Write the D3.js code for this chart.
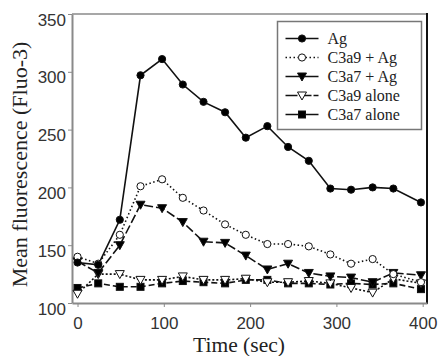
<!DOCTYPE html>
<html>
<head>
<meta charset="utf-8">
<script src="https://cdn.jsdelivr.net/npm/d3@7"></script>
<style>
  body { margin: 0; background: #fff; }
  svg { display: block; }
</style>
</head>
<body>
<div class="chart"></div>
<script>
// time points (sec)
var times = [0, 24, 49, 73, 98, 122, 146, 171, 195, 220, 244, 268, 293, 317, 342, 366, 398];

// mean fluorescence per series
var agValues = [135, 133, 172, 297, 311, 289, 274, 265, 243, 253, 235, 223, 199, 198, 200, 199, 187];
var c3a9AgValues = [140, 134, 159, 201, 207, 191, 180, 168, 159, 151, 151, 149, 142, 134, 138, 125, 118];
var c3a7AgValues = [136, 126, 150, 185, 182, 170, 153, 152, 141, 129, 134, 126, 123, 122, 118, 126, 124];
var c3a9AloneValues = [108, 125, 125, 120, 120, 123, 120, 120, 121, 118, 118, 119, 117, 113, 109, 121, 117];
var c3a7AloneValues = [113, 117, 114, 114, 117, 119, 118, 117, 120, 120, 117, 117, 116, 117, 116, 117, 112];

var seriesNames = ["Ag", "C3a9 + Ag", "C3a7 + Ag", "C3a9 alone", "C3a7 alone"];
var yTicks = [100, 150, 200, 250, 300, 350];
var xTicks = [0, 100, 200, 300, 400];

var series = [
    {name: seriesNames[0], values: agValues, marker: "circle", fill: "#000", dash: null, legendDash: null},
    {name: seriesNames[1], values: c3a9AgValues, marker: "circle", fill: "#fff", dash: "1.5,2.5", legendDash: "1.5,2.5"},
    {name: seriesNames[2], values: c3a7AgValues, marker: "triangle", fill: "#000", dash: "9,3", legendDash: null},
    {name: seriesNames[3], values: c3a9AloneValues, marker: "triangle", fill: "#fff", dash: "2,2", legendDash: "10,0,2,2"},
    {name: seriesNames[4], values: c3a7AloneValues, marker: "square", fill: "#000", dash: "6,3", legendDash: null}
];

var width = 446, height = 356;
var svg = d3.select("div.chart").append("svg")
    .attr("width", width)
    .attr("height", height);

var x = d3.scaleLinear().domain([-6.4, 405]).range([72, 427]);
var y = d3.scaleLinear().domain([100, 350]).range([303, 14]);

// frame: gray top, black right
svg.append("line")
    .attr("x1", x.range()[0]).attr("x2", x.range()[1])
    .attr("y1", y(350)).attr("y2", y(350))
    .attr("stroke", "#8a8a8a").attr("stroke-width", 1.5);
svg.append("line")
    .attr("x1", x.range()[1]).attr("x2", x.range()[1])
    .attr("y1", y(350) - 1).attr("y2", y(100) + 1)
    .attr("stroke", "#111").attr("stroke-width", 2);

// x axis
var xAxis = svg.append("g")
    .attr("transform", "translate(0," + y(100) + ")")
    .call(d3.axisBottom(x).tickValues(xTicks).tickSize(4).tickSizeOuter(0).tickPadding(10));
// y axis
var yAxis = svg.append("g")
    .attr("transform", "translate(" + x.range()[0] + ",0)")
    .call(d3.axisLeft(y).tickValues(yTicks).tickSize(4).tickSizeOuter(0).tickPadding(2));

[xAxis, yAxis].forEach(function (g) {
    g.select(".domain").attr("stroke", "#8a8a8a").attr("stroke-width", 2);
    g.selectAll(".tick line").attr("stroke", "#8a8a8a");
    g.selectAll(".tick text")
        .attr("fill", "#333")
        .style("font-family", "'Liberation Sans', Arial, sans-serif")
        .style("font-size", "17px");
});
yAxis.selectAll(".tick text").attr("dy", "11");

// lines
var line = d3.line()
    .x(function (d, i) { return x(times[i]); })
    .y(function (d) { return y(d); });

series.forEach(function (s) {
    svg.append("path")
        .datum(s.values)
        .attr("fill", "none")
        .attr("stroke", "#111")
        .attr("stroke-width", 1.6)
        .attr("stroke-dasharray", s.dash)
        .attr("d", line);
});

function drawMarker(g, type, fill, cx, cy) {
    if (type === "circle") {
        g.append("circle").attr("cx", cx).attr("cy", cy).attr("r", 3.6)
            .attr("fill", fill).attr("stroke", "#111").attr("stroke-width", 1);
    } else if (type === "triangle") {
        g.append("path")
            .attr("d", "M" + (cx - 4.5) + "," + (cy - 3.5) + "L" + (cx + 4.5) + "," + (cy - 3.5) + "L" + cx + "," + (cy + 4.5) + "Z")
            .attr("fill", fill).attr("stroke", "#111").attr("stroke-width", 1);
    } else {
        g.append("rect").attr("x", cx - 3.5).attr("y", cy - 3.5).attr("width", 7).attr("height", 7)
            .attr("fill", fill).attr("stroke", "#111").attr("stroke-width", 1);
    }
}

// markers, drawn in reverse so Ag sits on top
series.slice().reverse().forEach(function (s) {
    var g = svg.append("g");
    s.values.forEach(function (v, i) {
        drawMarker(g, s.marker, s.fill, x(times[i]), y(v));
    });
});

// legend
var legend = svg.append("g").attr("transform", "translate(277.5,21.5)");
legend.append("rect")
    .attr("width", 144).attr("height", 108)
    .attr("fill", "#fff").attr("stroke", "#777").attr("stroke-width", 1.5);

series.forEach(function (s, i) {
    var ly = 17 + i * 19;
    legend.append("line")
        .attr("x1", 8).attr("x2", 41).attr("y1", ly).attr("y2", ly)
        .attr("stroke", "#111").attr("stroke-width", 1.6)
        .attr("stroke-dasharray", s.legendDash);
    drawMarker(legend, s.marker, s.fill, 24.5, ly);
    legend.append("text")
        .attr("x", 50).attr("y", ly + 5)
        .attr("fill", "#222")
        .style("font-family", "'Liberation Serif', 'Times New Roman', serif")
        .style("font-size", "16px")
        .text(s.name);
});

// axis titles
svg.append("text")
    .attr("transform", "translate(27,164.5) rotate(-90)")
    .attr("text-anchor", "middle")
    .attr("fill", "#222")
    .style("font-family", "'Liberation Serif', 'Times New Roman', serif")
    .style("font-size", "22px")
    .text("Mean fluorescence (Fluo-3)");

svg.append("text")
    .attr("x", 239).attr("y", 352)
    .attr("text-anchor", "middle")
    .attr("fill", "#222")
    .style("font-family", "'Liberation Serif', 'Times New Roman', serif")
    .style("font-size", "21.5px")
    .text("Time (sec)");
</script>
</body>
</html>
